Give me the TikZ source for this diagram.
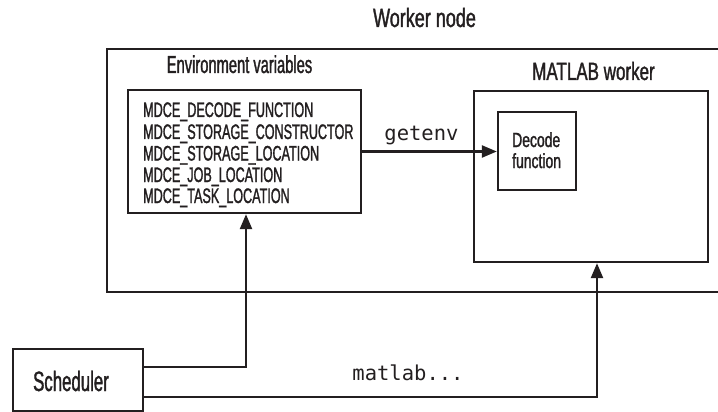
\documentclass[tikz,border=0pt]{standalone}
\usepackage{fontspec}
\setmainfont{Liberation Sans}
\newfontfamily\fA{Liberation Sans}[FakeStretch=0.68,FakeBold=1.3]
\newfontfamily\fB{Liberation Sans}[FakeStretch=0.60,FakeBold=1.3]
\newfontfamily\fC{Liberation Sans}[FakeStretch=0.60,FakeBold=1.3]
\newfontfamily\fM{DejaVu Sans Mono}
\usetikzlibrary{arrows.meta}
\definecolor{ink}{RGB}{35,31,32}
\begin{document}
\begin{tikzpicture}[x=1pt,y=-1pt,
  box/.style={draw=ink, line width=2.4pt, rectangle, inner sep=0pt, anchor=center},
  arr/.style={draw=ink, line width=2.4pt, -{Triangle[length=15pt,width=12pt]}},
  lbl/.style={text=ink, inner sep=0pt, anchor=base},
  lblw/.style={text=ink, inner sep=0pt, anchor=base west},
  bigfont/.style={font=\fA\fontsize{26.5pt}{30pt}\selectfont},
  midfont/.style={font=\fA\fontsize{25pt}{30pt}\selectfont},
  envfont/.style={font=\fB\fontsize{24.5pt}{28pt}\selectfont},
  schedfont/.style={font=\fB\fontsize{28pt}{32pt}\selectfont},
  varfont/.style={font=\fC\fontsize{21pt}{24pt}\selectfont},
  decfont/.style={font=\fA\fontsize{20.5pt}{24pt}\selectfont},
  codefont/.style={font=\fM\fontsize{20.5pt}{24pt}\selectfont}]
\useasboundingbox (0,0) rectangle (718,412);
\fill[white] (0,0) rectangle (718,412);
\begin{scope}
\clip (0,0) rectangle (718,412);
% boxes
\node[box, minimum width=633pt, minimum height=243pt] (worker) at (423.5,170.5) {};
\node[box, minimum width=233pt, minimum height=123pt] (env) at (244.5,151.5) {};
\node[box, minimum width=234pt, minimum height=171pt] (matlab) at (591,176.5) {};
\node[box, minimum width=78pt, minimum height=78pt] (decode) at (537,151) {};
\node[box, minimum width=130pt, minimum height=62pt] (sched) at (78,380) {};
% titles
\node[lbl, bigfont] (tworker) at (424.5,27) {Worker node};
\node[lbl, envfont] (tenv) at (239.5,73) {Environment variables};
\node[lbl, midfont] (tmatlab) at (593.5,80) {MATLAB worker};
\node[lbl, schedfont] (tsched) at (71,391) {Scheduler};
% variable names
\node[lblw, varfont] (v1) at (143,117) {MDCE\_DECODE\_FUNCTION};
\node[lblw, varfont] (v2) at (143,139) {MDCE\_STORAGE\_CONSTRUCTOR};
\node[lblw, varfont] (v3) at (143,160.5) {MDCE\_STORAGE\_LOCATION};
\node[lblw, varfont] (v4) at (143,182) {MDCE\_JOB\_LOCATION};
\node[lblw, varfont] (v5) at (143,203) {MDCE\_TASK\_LOCATION};
% decode function text
\node[lblw, decfont] (d1) at (512,147) {Decode};
\node[lblw, decfont] (d2) at (512,168) {function};
% connectors
\draw[arr] (env.east) -- (env.east -| decode.west);
\node[lbl, codefont] (tgetenv) at (421.5,140) {getenv};
\draw[arr] ([yshift=13pt]sched.east) -| ([xshift=1.5pt]env.south);
\draw[arr] ([yshift=-17pt]sched.east) -| ([xshift=6pt]matlab.south);
\node[lbl, codefont] (tmatlabcmd) at (408,380) {matlab...};
\end{scope}
\end{tikzpicture}
\end{document}
